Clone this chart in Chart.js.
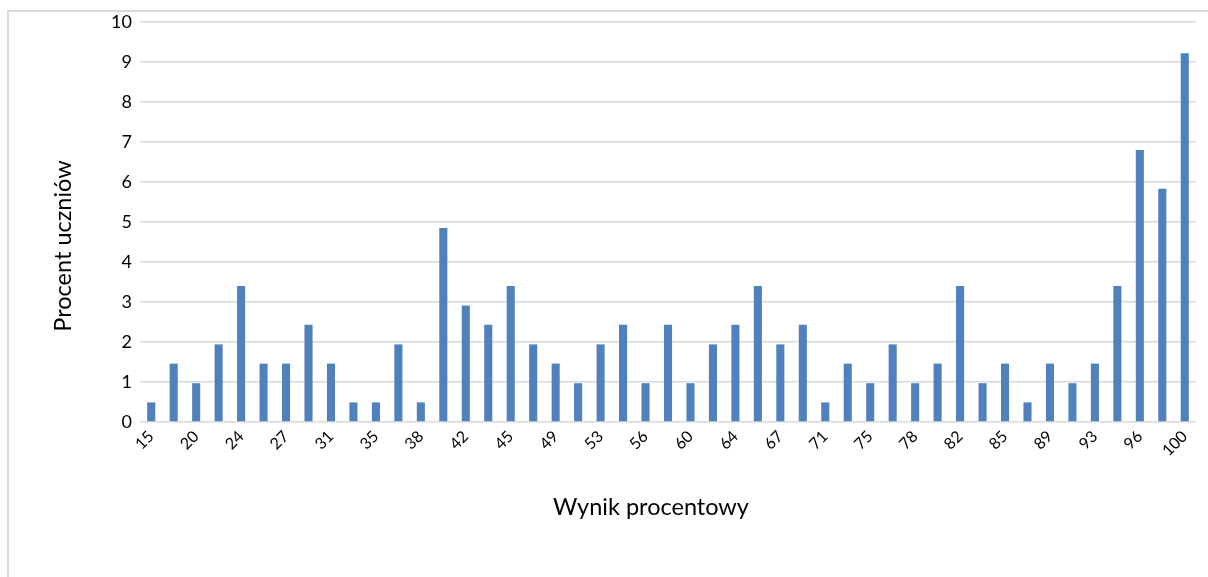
<!DOCTYPE html>
<html>
<head>
<meta charset="utf-8">
<script src="https://cdn.jsdelivr.net/npm/chart.js@4.4.0/dist/chart.umd.min.js"></script>
<style>
  html, body { margin: 0; padding: 0; background: #fff; overflow: hidden; }
  #wrap { position: relative; width: 1208px; height: 577px; }
  #frame { position: absolute; left: 7px; top: 10px; width: 1220px; height: 620px; border: 2px solid #d9d9d9; box-sizing: border-box; }
  canvas { position: absolute; left: 0; top: 0; }
</style>
</head>
<body>
<div id="wrap">
  <div id="frame"></div>
  <canvas id="c" width="1208" height="577"></canvas>
</div>
<script>
const categories = ['15','18','20','22','24','25','27','29','31','33','35','36','38','40','42','44','45','47','49','51','53','55','56','58','60','62','64','65','67','69','71','73','75','76','78','80','82','84','85','87','89','91','93','95','96','98','100'];
const percentStudents = [0.49,1.46,0.97,1.94,3.40,1.46,1.46,2.43,1.46,0.49,0.49,1.94,0.49,4.85,2.91,2.43,3.40,1.94,1.46,0.97,1.94,2.43,0.97,2.43,0.97,1.94,2.43,3.40,1.94,2.43,0.49,1.46,0.97,1.94,0.97,1.46,3.40,0.97,1.46,0.49,1.46,0.97,1.46,3.40,6.80,5.83,9.22];
const xTitle = 'Wynik procentowy';
const yTitle = 'Procent uczniów';

const FONT = 'Lato, "Open Sans", sans-serif';

// Axis titles drawn Excel-style: centred on plot area incl. axis labels
const axisTitles = {
  id: 'axisTitles',
  afterDraw(chart) {
    const ctx = chart.ctx;
    const a = chart.chartArea;
    ctx.save();
    ctx.fillStyle = '#000';
    ctx.font = '23.5px ' + FONT;
    ctx.textAlign = 'center';
    ctx.textBaseline = 'middle';
    ctx.fillText(xTitle, (a.left + a.right) / 2 - 17, a.bottom + 85);
    ctx.translate(63, (a.top + a.bottom) / 2 + 24);
    ctx.rotate(-Math.PI / 2);
    ctx.fillText(yTitle, 0, 0);
    ctx.restore();
  }
};

new Chart(document.getElementById('c'), {
  type: 'bar',
  data: {
    labels: categories,
    datasets: [{
      data: percentStudents,
      backgroundColor: '#4f81bd',
      borderWidth: 0,
      categoryPercentage: 1.0,
      barPercentage: 0.36
    }]
  },
  options: {
    responsive: false,
    animation: false,
    devicePixelRatio: 1,
    layout: { padding: { top: 22, right: 12, left: 0, bottom: 0 } },
    plugins: { legend: { display: false }, tooltip: { enabled: false } },
    scales: {
      x: {
        grid: { display: false, drawTicks: false },
        border: { display: false },
        ticks: {
          autoSkip: false,
          minRotation: 45,
          maxRotation: 45,
          padding: 5,
          color: '#000',
          font: { family: FONT, size: 16 },
          callback: function(v, i) { return i % 2 === 0 ? categories[i] : ''; }
        },
        afterFit: function(s) { s.height = 155; }
      },
      y: {
        min: 0,
        max: 10,
        grid: { color: '#d9d9d9', lineWidth: 1.5, drawTicks: false },
        border: { display: false },
        ticks: {
          stepSize: 1,
          padding: 8,
          color: '#000',
          font: { family: FONT, size: 18 }
        },
        afterFit: function(s) { s.width = 140; }
      }
    }
  },
  plugins: [axisTitles]
});
</script>
</body>
</html>
